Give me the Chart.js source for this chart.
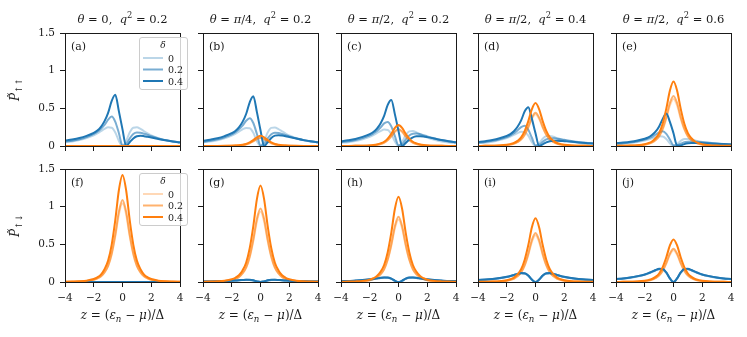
<!DOCTYPE html>
<html>
<head>
<meta charset="utf-8">
<script src="https://cdn.jsdelivr.net/npm/chart.js@4.4.1/dist/chart.umd.min.js"></script>
<style>
  body { margin: 0; background: #fff; }
  #fig { position: relative; width: 747px; height: 337px; overflow: hidden; background: #fff; }
  #fig canvas { position: absolute; }
</style>
</head>
<body>
<div id="fig"></div>
<script>
// === energy grid z = (eps_n - mu)/Delta ===
const z = [-4,-3.5,-3,-2.5,-2,-1.75,-1.5,-1.25,-1,-0.75,-0.5,-0.25,0,0.25,0.5,0.75,1,1.25,1.5,1.75,2,2.5,3,3.5,4];
const zeros = [0,0,0,0,0,0,0,0,0,0,0,0,0,0,0,0,0,0,0,0,0,0,0,0,0];

// === top row, P up-up : blue (delta = 0, 0.2, 0.4) and orange ===
const a_b0 = [0.05,0.06,0.078,0.104,0.142,0.166,0.196,0.226,0.248,0.243,0.18,0.066,0,0.066,0.18,0.243,0.248,0.226,0.196,0.166,0.142,0.104,0.078,0.06,0.05];
const a_b2 = [0.058,0.07,0.09,0.12,0.16,0.19,0.23,0.28,0.35,0.39,0.32,0.17,0.005,0.025,0.1,0.16,0.18,0.175,0.162,0.147,0.13,0.1,0.077,0.061,0.049];
const a_b4 = [0.07,0.085,0.105,0.135,0.175,0.205,0.255,0.33,0.44,0.6,0.68,0.46,0.22,0,0.05,0.1,0.13,0.135,0.13,0.122,0.113,0.094,0.075,0.06,0.047];
const a_o0 = zeros, a_o2 = zeros, a_o4 = zeros;

const b_b0 = [0.05,0.06,0.077,0.102,0.138,0.162,0.19,0.22,0.24,0.235,0.175,0.064,0,0.066,0.18,0.24,0.245,0.224,0.195,0.165,0.141,0.103,0.078,0.06,0.05];
const b_b2 = [0.057,0.069,0.088,0.117,0.155,0.184,0.222,0.27,0.335,0.37,0.305,0.16,0.005,0.025,0.1,0.155,0.177,0.173,0.16,0.145,0.128,0.099,0.076,0.06,0.048];
const b_b4 = [0.068,0.083,0.102,0.131,0.17,0.2,0.248,0.32,0.425,0.58,0.66,0.45,0.21,0,0.05,0.105,0.137,0.143,0.138,0.13,0.12,0.099,0.078,0.062,0.049];
const b_o0 = [0,0,0.001,0.001,0.003,0.005,0.007,0.013,0.021,0.037,0.061,0.09,0.105,0.09,0.061,0.037,0.021,0.013,0.007,0.005,0.003,0.001,0.001,0,0];
const b_o2 = [0,0,0.001,0.001,0.003,0.005,0.008,0.013,0.022,0.039,0.064,0.095,0.11,0.095,0.064,0.039,0.022,0.013,0.008,0.005,0.003,0.001,0.001,0,0];
const b_o4 = [0,0.001,0.001,0.002,0.004,0.006,0.009,0.016,0.027,0.047,0.078,0.116,0.135,0.116,0.078,0.047,0.027,0.016,0.009,0.006,0.004,0.002,0.001,0.001,0];

const c_b0 = [0.042,0.051,0.066,0.09,0.123,0.145,0.172,0.198,0.218,0.213,0.158,0.059,0,0.054,0.144,0.194,0.198,0.18,0.156,0.132,0.112,0.082,0.06,0.046,0.038];
const c_b2 = [0.052,0.063,0.08,0.106,0.142,0.168,0.2,0.245,0.3,0.32,0.26,0.13,0.01,0.02,0.085,0.14,0.162,0.165,0.157,0.143,0.128,0.1,0.077,0.061,0.049];
const c_b4 = [0.062,0.076,0.094,0.121,0.158,0.186,0.232,0.3,0.4,0.545,0.61,0.42,0.2,0,0.04,0.085,0.115,0.128,0.13,0.126,0.118,0.099,0.079,0.063,0.05];
const c_o0 = [0,0.001,0.002,0.003,0.006,0.009,0.015,0.026,0.043,0.075,0.125,0.185,0.215,0.185,0.125,0.075,0.043,0.026,0.015,0.009,0.006,0.003,0.002,0.001,0];
const c_o2 = [0,0.001,0.002,0.003,0.006,0.01,0.016,0.027,0.045,0.079,0.131,0.194,0.225,0.194,0.131,0.079,0.045,0.027,0.016,0.01,0.006,0.003,0.002,0.001,0];
const c_o4 = [0.001,0.001,0.002,0.004,0.008,0.012,0.02,0.034,0.056,0.098,0.162,0.241,0.28,0.241,0.162,0.098,0.056,0.034,0.02,0.012,0.008,0.004,0.002,0.001,0.001];

const d_b0 = [0.037,0.044,0.057,0.078,0.106,0.125,0.148,0.171,0.188,0.184,0.137,0.051,0,0.036,0.097,0.131,0.134,0.122,0.105,0.089,0.076,0.055,0.041,0.031,0.026];
const d_b2 = [0.045,0.054,0.068,0.09,0.12,0.142,0.17,0.208,0.25,0.27,0.215,0.11,0.008,0.015,0.055,0.088,0.1,0.102,0.097,0.09,0.082,0.066,0.052,0.042,0.035];
const d_b4 = [0.052,0.064,0.079,0.102,0.134,0.158,0.196,0.255,0.34,0.46,0.515,0.36,0.17,0,0.022,0.048,0.064,0.07,0.07,0.068,0.064,0.056,0.047,0.039,0.033];
const d_o0 = [0.001,0.002,0.003,0.005,0.012,0.018,0.029,0.05,0.084,0.147,0.244,0.361,0.42,0.361,0.244,0.147,0.084,0.05,0.029,0.018,0.012,0.005,0.003,0.002,0.001];
const d_o2 = [0.001,0.002,0.003,0.006,0.012,0.019,0.031,0.053,0.088,0.154,0.255,0.378,0.44,0.378,0.255,0.154,0.088,0.053,0.031,0.019,0.012,0.006,0.003,0.002,0.001];
const d_o4 = [0.001,0.002,0.004,0.007,0.016,0.025,0.04,0.068,0.114,0.2,0.331,0.49,0.57,0.49,0.331,0.2,0.114,0.068,0.04,0.025,0.016,0.007,0.004,0.002,0.001];

const e_b0 = [0.025,0.03,0.039,0.053,0.073,0.086,0.101,0.117,0.129,0.126,0.094,0.035,0,0.026,0.068,0.092,0.094,0.086,0.074,0.063,0.053,0.039,0.029,0.022,0.018];
const e_b2 = [0.032,0.038,0.048,0.064,0.086,0.102,0.123,0.15,0.18,0.195,0.16,0.085,0.01,0.008,0.03,0.05,0.058,0.06,0.058,0.054,0.05,0.042,0.034,0.028,0.023];
const e_b4 = [0.037,0.045,0.056,0.073,0.097,0.115,0.145,0.19,0.26,0.36,0.43,0.32,0.17,0.005,0.008,0.025,0.036,0.04,0.041,0.04,0.038,0.034,0.029,0.025,0.021];
const e_o0 = [0.001,0.003,0.004,0.008,0.018,0.028,0.044,0.075,0.125,0.219,0.363,0.538,0.625,0.538,0.363,0.219,0.125,0.075,0.044,0.028,0.018,0.008,0.004,0.003,0.001];
const e_o2 = [0.001,0.003,0.005,0.009,0.019,0.029,0.047,0.08,0.133,0.233,0.386,0.572,0.665,0.572,0.386,0.233,0.133,0.08,0.047,0.029,0.019,0.009,0.005,0.003,0.001];
const e_o4 = [0.002,0.003,0.006,0.011,0.024,0.038,0.06,0.103,0.171,0.299,0.496,0.735,0.855,0.735,0.496,0.299,0.171,0.103,0.06,0.038,0.024,0.011,0.006,0.003,0.002];

// === bottom row, P up-down ===
const f_b0 = zeros, f_b2 = zeros, f_b4 = zeros;
const f_o0 = [0.002,0.004,0.007,0.014,0.029,0.046,0.073,0.125,0.209,0.366,0.606,0.899,1.045,0.899,0.606,0.366,0.209,0.125,0.073,0.046,0.029,0.014,0.007,0.004,0.002];
const f_o2 = [0.002,0.004,0.008,0.014,0.031,0.048,0.076,0.131,0.218,0.382,0.632,0.937,1.09,0.937,0.632,0.382,0.218,0.131,0.076,0.048,0.031,0.014,0.008,0.004,0.002];
const f_o4 = [0.003,0.006,0.01,0.018,0.04,0.062,0.099,0.17,0.284,0.497,0.824,1.221,1.42,1.221,0.824,0.497,0.284,0.17,0.099,0.062,0.04,0.018,0.01,0.006,0.003];

const g_b0 = [0.005,0.007,0.008,0.012,0.016,0.019,0.022,0.026,0.028,0.028,0.021,0.008,0,0.008,0.021,0.028,0.028,0.026,0.022,0.019,0.016,0.012,0.008,0.007,0.005];
const g_b2 = [0.006,0.007,0.009,0.012,0.016,0.019,0.023,0.026,0.029,0.028,0.021,0.008,0,0.008,0.021,0.028,0.029,0.026,0.023,0.019,0.016,0.012,0.009,0.007,0.006];
const g_b4 = [0.006,0.007,0.009,0.012,0.017,0.02,0.023,0.027,0.03,0.029,0.022,0.008,0,0.008,0.022,0.029,0.03,0.027,0.023,0.02,0.017,0.012,0.009,0.007,0.006];
const g_o0 = [0.002,0.004,0.007,0.012,0.026,0.041,0.065,0.112,0.187,0.327,0.542,0.804,0.935,0.804,0.542,0.327,0.187,0.112,0.065,0.041,0.026,0.012,0.007,0.004,0.002];
const g_o2 = [0.002,0.004,0.007,0.013,0.027,0.043,0.068,0.117,0.195,0.341,0.566,0.839,0.975,0.839,0.566,0.341,0.195,0.117,0.068,0.043,0.027,0.013,0.007,0.004,0.002];
const g_o4 = [0.003,0.005,0.009,0.017,0.036,0.056,0.09,0.154,0.256,0.448,0.742,1.101,1.28,1.101,0.742,0.448,0.256,0.154,0.09,0.056,0.036,0.017,0.009,0.005,0.003];

const h_b0 = [0.011,0.013,0.017,0.024,0.032,0.038,0.045,0.052,0.057,0.056,0.042,0.016,0,0.016,0.042,0.056,0.057,0.052,0.045,0.038,0.032,0.024,0.017,0.013,0.011];
const h_b2 = [0.011,0.014,0.018,0.025,0.034,0.04,0.047,0.054,0.059,0.058,0.043,0.016,0,0.016,0.043,0.058,0.059,0.054,0.047,0.04,0.034,0.025,0.018,0.014,0.011];
const h_b4 = [0.012,0.014,0.019,0.025,0.035,0.041,0.048,0.056,0.061,0.06,0.045,0.017,0,0.017,0.045,0.06,0.061,0.056,0.048,0.041,0.035,0.025,0.019,0.014,0.012];
const h_o0 = [0.002,0.003,0.006,0.011,0.023,0.037,0.058,0.1,0.166,0.291,0.481,0.714,0.83,0.714,0.481,0.291,0.166,0.1,0.058,0.037,0.023,0.011,0.006,0.003,0.002];
const h_o2 = [0.002,0.003,0.006,0.011,0.024,0.038,0.061,0.104,0.173,0.303,0.502,0.744,0.865,0.744,0.502,0.303,0.173,0.104,0.061,0.038,0.024,0.011,0.006,0.003,0.002];
const h_o4 = [0.002,0.005,0.008,0.015,0.032,0.05,0.079,0.136,0.226,0.396,0.655,0.972,1.13,0.972,0.655,0.396,0.226,0.136,0.079,0.05,0.032,0.015,0.008,0.005,0.002];

const i_b0 = [0.025,0.03,0.038,0.05,0.065,0.076,0.089,0.103,0.113,0.11,0.082,0.031,0,0.031,0.082,0.11,0.113,0.103,0.089,0.076,0.065,0.05,0.038,0.03,0.025];
const i_b2 = [0.026,0.031,0.039,0.051,0.067,0.078,0.092,0.105,0.116,0.113,0.084,0.031,0,0.031,0.084,0.113,0.116,0.105,0.092,0.078,0.067,0.051,0.039,0.031,0.026];
const i_b4 = [0.027,0.032,0.04,0.052,0.069,0.08,0.094,0.108,0.119,0.116,0.086,0.032,0,0.032,0.086,0.116,0.119,0.108,0.094,0.08,0.069,0.052,0.04,0.032,0.027];
const i_o0 = [0.001,0.002,0.004,0.008,0.017,0.027,0.043,0.074,0.124,0.217,0.36,0.533,0.62,0.533,0.36,0.217,0.124,0.074,0.043,0.027,0.017,0.008,0.004,0.002,0.001];
const i_o2 = [0.001,0.003,0.005,0.008,0.018,0.029,0.046,0.078,0.13,0.228,0.377,0.559,0.65,0.559,0.377,0.228,0.13,0.078,0.046,0.029,0.018,0.008,0.005,0.003,0.001];
const i_o4 = [0.002,0.003,0.006,0.011,0.024,0.037,0.059,0.101,0.169,0.296,0.49,0.727,0.845,0.727,0.49,0.296,0.169,0.101,0.059,0.037,0.024,0.011,0.006,0.003,0.002];

const j_b0 = [0.038,0.046,0.057,0.074,0.096,0.112,0.132,0.152,0.167,0.164,0.121,0.046,0,0.046,0.121,0.164,0.167,0.152,0.132,0.112,0.096,0.074,0.057,0.046,0.038];
const j_b2 = [0.039,0.047,0.059,0.076,0.098,0.114,0.135,0.156,0.171,0.168,0.124,0.047,0,0.047,0.124,0.168,0.171,0.156,0.135,0.114,0.098,0.076,0.059,0.047,0.039];
const j_b4 = [0.04,0.048,0.06,0.078,0.1,0.117,0.138,0.159,0.175,0.172,0.127,0.048,0,0.048,0.127,0.172,0.175,0.159,0.138,0.117,0.1,0.078,0.06,0.048,0.04];
const j_o0 = [0.001,0.002,0.003,0.005,0.012,0.018,0.029,0.05,0.084,0.147,0.244,0.361,0.42,0.361,0.244,0.147,0.084,0.05,0.029,0.018,0.012,0.005,0.003,0.002,0.001];
const j_o2 = [0.001,0.002,0.003,0.006,0.012,0.019,0.031,0.053,0.088,0.154,0.255,0.378,0.44,0.378,0.255,0.154,0.088,0.053,0.031,0.019,0.012,0.006,0.003,0.002,0.001];
const j_o4 = [0.001,0.002,0.004,0.007,0.016,0.025,0.04,0.068,0.113,0.198,0.328,0.486,0.565,0.486,0.328,0.198,0.113,0.068,0.04,0.025,0.016,0.007,0.004,0.002,0.001];

// === labels ===
const deltaLabels = ['0', '0.2', '0.4'];
const yTicks = [0, 0.5, 1, 1.5];
const xTicks = [-4, -2, 0, 2, 4];
const letters = [['(a)','(b)','(c)','(d)','(e)'], ['(f)','(g)','(h)','(i)','(j)']];
// titles as [text, italic, script] pieces
const titles = [
  [['θ',1],[' = 0,  ',0],['q',1],['2',0,'sup'],[' = 0.2',0]],
  [['θ',1],[' = ',0],['π',1],['/4,  ',0],['q',1],['2',0,'sup'],[' = 0.2',0]],
  [['θ',1],[' = ',0],['π',1],['/2,  ',0],['q',1],['2',0,'sup'],[' = 0.2',0]],
  [['θ',1],[' = ',0],['π',1],['/2,  ',0],['q',1],['2',0,'sup'],[' = 0.4',0]],
  [['θ',1],[' = ',0],['π',1],['/2,  ',0],['q',1],['2',0,'sup'],[' = 0.6',0]]
];
const xTitle = [['z',1],[' = (',0],['ε',1],['n',1,'sub'],[' − ',0],['μ',1],[')/Δ',0]];
const yTitles = [
  [['P\u0303',1],['↑↑',0,'sub']],
  [['P\u0303',1],['↑↓',0,'sub']]
];

const panels = [
  [
    { blue: [a_b0, a_b2, a_b4], orange: [a_o0, a_o2, a_o4] },
    { blue: [b_b0, b_b2, b_b4], orange: [b_o0, b_o2, b_o4] },
    { blue: [c_b0, c_b2, c_b4], orange: [c_o0, c_o2, c_o4] },
    { blue: [d_b0, d_b2, d_b4], orange: [d_o0, d_o2, d_o4] },
    { blue: [e_b0, e_b2, e_b4], orange: [e_o0, e_o2, e_o4] }
  ],
  [
    { blue: [f_b0, f_b2, f_b4], orange: [f_o0, f_o2, f_o4] },
    { blue: [g_b0, g_b2, g_b4], orange: [g_o0, g_o2, g_o4] },
    { blue: [h_b0, h_b2, h_b4], orange: [h_o0, h_o2, h_o4] },
    { blue: [i_b0, i_b2, i_b4], orange: [i_o0, i_o2, i_o4] },
    { blue: [j_b0, j_b2, j_b4], orange: [j_o0, j_o2, j_o4] }
  ]
];

// === style / layout ===
const SERIF = '"DejaVu Serif", "Liberation Serif", serif';
const INK = '#1a1a1a';
const BLUE = '31,119,180';
const ORANGE = '255,127,14';
const alphas = [0.3, 0.6, 1];
const colLeft = [65, 203, 341, 478, 616];
const rowTop = [33, 169];
const PW = 115, PH = 113;
const L = 65, T = 33, R = 12, B = 55;
const W = L + PW + R, H = T + PH + B;

function rgba(c, a) { return 'rgba(' + c + ',' + a + ')'; }

// draw a row of text pieces (italic / sub / sup) starting or centred at x
function drawParts(ctx, parts, x, y, size, align, small) {
  const sm = small || 0.72;
  const fonts = parts.map(p => (p[1] ? 'italic ' : '') + (p[2] ? (size * sm).toFixed(1) : size) + 'px ' + SERIF);
  let w = 0;
  parts.forEach((p, k) => { ctx.font = fonts[k]; w += ctx.measureText(p[0]).width; });
  let cx = align === 'center' ? x - w / 2 : x;
  ctx.textAlign = 'left';
  ctx.textBaseline = 'alphabetic';
  parts.forEach((p, k) => {
    ctx.font = fonts[k];
    const dy = p[2] === 'sub' ? size * 0.28 : p[2] === 'sup' ? -size * 0.42 : 0;
    ctx.fillText(p[0], cx, y + dy);
    cx += ctx.measureText(p[0]).width;
  });
}

function decoPlugin(row, col) {
  return {
    id: 'deco',
    afterDraw(chart) {
      const ctx = chart.ctx;
      const ca = chart.chartArea;
      ctx.save();
      ctx.fillStyle = INK;

      // frame on all four sides
      ctx.strokeStyle = INK;
      ctx.lineWidth = 1;
      ctx.strokeRect(ca.left + 0.5, ca.top + 0.5, ca.right - ca.left, ca.bottom - ca.top);

      // panel letter
      ctx.font = '11px ' + SERIF;
      ctx.textAlign = 'left';
      ctx.textBaseline = 'alphabetic';
      ctx.fillText(letters[row][col], ca.left + 6, ca.top + 17);

      const mid = (ca.left + ca.right) / 2;
      if (row === 0) drawParts(ctx, titles[col], mid, 23, 11.5, 'center');
      if (row === 1) drawParts(ctx, xTitle, mid, H - 18, 12, 'center');

      if (col === 0) {
        // y title, rotated
        ctx.save();
        ctx.translate(14, (ca.top + ca.bottom) / 2);
        ctx.rotate(-Math.PI / 2);
        drawParts(ctx, yTitles[row], 0, 5, 12, 'center', 0.75);
        ctx.restore();

        // legend box
        const c = row === 0 ? BLUE : ORANGE;
        const bx = ca.left + 74, by = ca.top + 4, bw = 48, bh = 52;
        ctx.beginPath();
        ctx.roundRect(bx + 0.5, by + 0.5, bw, bh, 2.5);
        ctx.fillStyle = 'rgba(255,255,255,0.8)';
        ctx.fill();
        ctx.strokeStyle = '#cccccc';
        ctx.stroke();
        ctx.fillStyle = INK;
        ctx.font = 'italic 9px ' + SERIF;
        ctx.textAlign = 'center';
        ctx.fillText('δ', bx + bw / 2, by + 11);
        ctx.textAlign = 'left';
        ctx.font = '9.5px ' + SERIF;
        for (let k = 0; k < 3; k++) {
          const ly = by + 21 + 11.5 * k;
          ctx.strokeStyle = rgba(c, alphas[k]);
          ctx.lineWidth = 2;
          ctx.beginPath();
          ctx.moveTo(bx + 4, ly);
          ctx.lineTo(bx + 24, ly);
          ctx.stroke();
          ctx.fillText(deltaLabels[k], bx + 29, ly + 3.5);
        }
      }
      ctx.restore();
    }
  };
}

function makePanel(row, col) {
  const p = panels[row][col];
  const cv = document.createElement('canvas');
  cv.width = W;
  cv.height = H;
  cv.style.left = (colLeft[col] - L) + 'px';
  cv.style.top = (rowTop[row] - T) + 'px';
  document.getElementById('fig').appendChild(cv);

  // per delta: blue then orange, later ones on top
  const sets = [];
  for (let k = 0; k < 3; k++) {
    sets.push({ vals: p.blue[k], color: BLUE, a: alphas[k] });
    sets.push({ vals: p.orange[k], color: ORANGE, a: alphas[k] });
  }
  const datasets = sets.map((s, n) => ({
    data: s.vals.map((v, i) => ({ x: z[i], y: v })),
    borderColor: rgba(s.color, s.a),
    borderWidth: 2,
    pointRadius: 0,
    fill: false,
    cubicInterpolationMode: 'monotone',
    order: sets.length - n
  }));

  const tickFont = { family: SERIF, size: 10.5 };
  new Chart(cv, {
    type: 'line',
    data: { datasets },
    options: {
      responsive: false,
      animation: false,
      devicePixelRatio: 1,
      events: [],
      layout: { padding: { left: 0, top: T, right: R, bottom: 0 } },
      plugins: { legend: { display: false }, tooltip: { enabled: false }, title: { display: false } },
      scales: {
        x: {
          type: 'linear', min: -4, max: 4,
          afterFit: s => { s.height = B; },
          afterBuildTicks: s => { s.ticks = xTicks.map(v => ({ value: v })); },
          ticks: {
            display: row === 1, font: tickFont, color: INK, padding: 5, maxRotation: 0, autoSkip: false,
            callback: v => (v < 0 ? '\u2212' + Math.abs(v) : String(v))
          },
          grid: { drawOnChartArea: false, tickLength: 5, color: INK, lineWidth: 1 },
          border: { display: false }
        },
        y: {
          min: 0, max: 1.5,
          afterFit: s => { s.width = L; },
          afterBuildTicks: s => { s.ticks = yTicks.map(v => ({ value: v })); },
          ticks: {
            display: col === 0, font: tickFont, color: INK, padding: 5,
            callback: v => String(v)
          },
          grid: { drawOnChartArea: false, tickLength: 5, color: INK, lineWidth: 1 },
          border: { display: false }
        }
      }
    },
    plugins: [decoPlugin(row, col)]
  });
}

for (let row = 0; row < 2; row++) {
  for (let col = 0; col < 5; col++) makePanel(row, col);
}
</script>
</body>
</html>
